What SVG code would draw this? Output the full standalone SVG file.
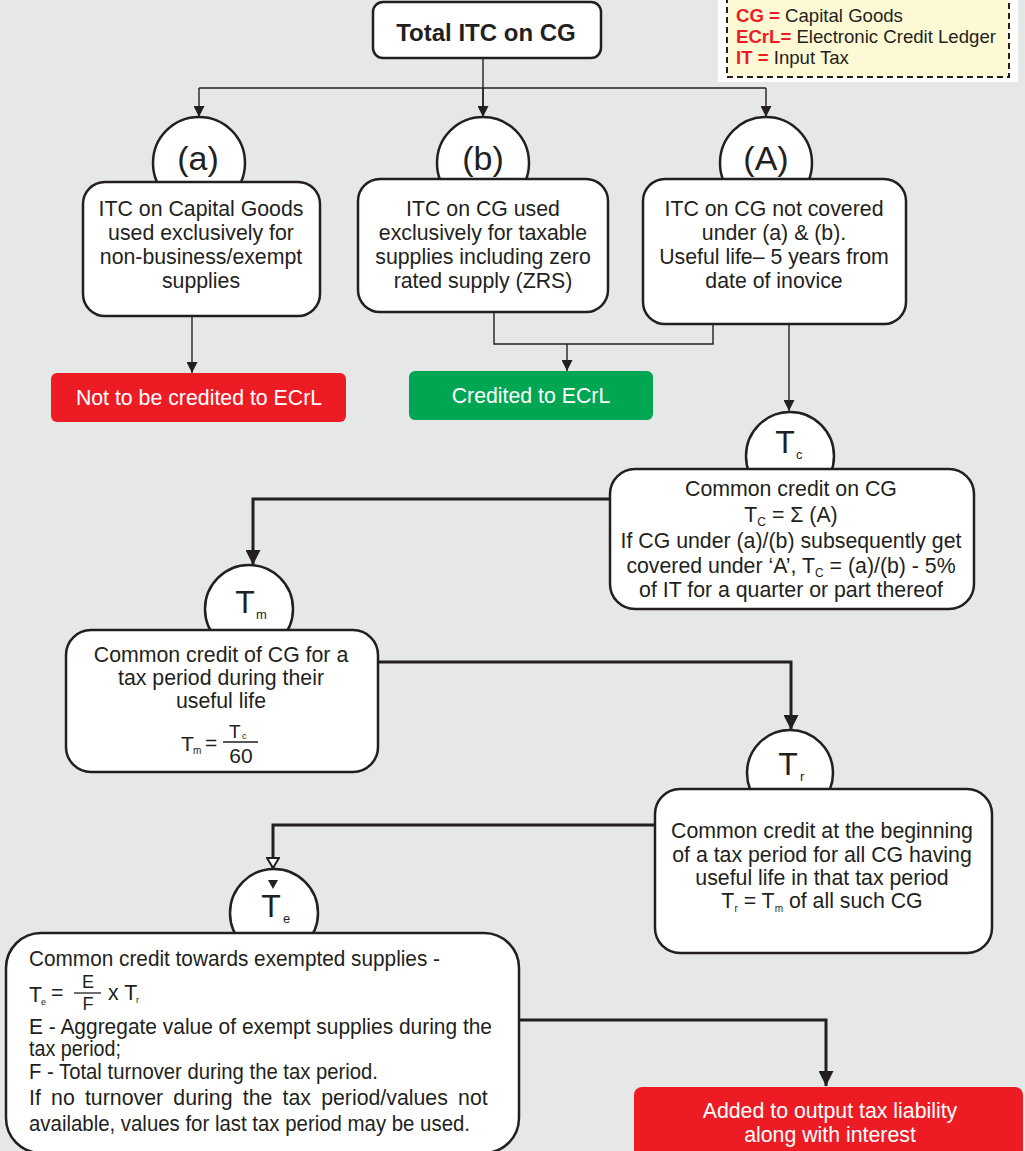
<svg xmlns="http://www.w3.org/2000/svg" width="1025" height="1151" viewBox="0 0 1025 1151">
  <defs>
    <style>
      .box { fill: #ffffff; stroke: #231f20; stroke-width: 2.5; }
      .circ { fill: #ffffff; stroke: #231f20; stroke-width: 2.5; }
      .t { font-family: "Liberation Sans", Arial, sans-serif; font-size: 21.3px; fill: #231f20; }
      .c { text-anchor: middle; }
      .big { font-family: "Liberation Sans", Arial, sans-serif; font-size: 34px; fill: #231f20; text-anchor: middle; }
      .bt { font-family: "Liberation Sans", Arial, sans-serif; font-size: 32px; fill: #231f20; text-anchor: middle; }
      .sub { font-family: "Liberation Sans", Arial, sans-serif; font-size: 13px; fill: #231f20; }
      .w { font-family: "Liberation Sans", Arial, sans-serif; font-size: 21.3px; fill: #ffffff; text-anchor: middle; }
      .thin { fill: none; stroke: #231f20; stroke-width: 1.4; }
      .thick { fill: none; stroke: #231f20; stroke-width: 3; }
      .leg { font-family: "Liberation Sans", Arial, sans-serif; font-size: 18.6px; fill: #231f20; }
      .red { fill: #ed1c24; font-weight: bold; }
    </style>
    <marker id="arr" viewBox="0 0 10 10" refX="10" refY="5" markerWidth="11" markerHeight="11" markerUnits="userSpaceOnUse" orient="auto">
      <path d="M0,0 L10,5 L0,10 z" fill="#231f20"/>
    </marker>
    <marker id="arrB" viewBox="0 0 10 10" refX="10" refY="5" markerWidth="5" markerHeight="5" orient="auto">
      <path d="M0,0 L10,5 L0,10 z" fill="#231f20"/>
    </marker>
    <marker id="arrO" viewBox="0 0 12 14" refX="11" refY="7" markerWidth="12" markerHeight="14" markerUnits="userSpaceOnUse" orient="auto">
      <path d="M1,1 L11,7 L1,13 z" fill="#ffffff" stroke="#231f20" stroke-width="2"/>
    </marker>
  </defs>

  <rect width="1025" height="1151" fill="#e6e8e7"/>

  <!-- abbreviations legend -->
  <g id="legend">
    <rect x="718" y="-5" width="300" height="87" fill="#ffffff"/>
    <rect x="727" y="-5" width="282" height="82" fill="#fdf9d5" stroke="#231f20" stroke-width="2" stroke-dasharray="6,4"/>
    <text class="leg" x="736" y="22"><tspan class="red">CG =</tspan> Capital Goods</text>
    <text class="leg" x="736" y="43"><tspan class="red">ECrL=</tspan> Electronic Credit Ledger</text>
    <text class="leg" x="736" y="64"><tspan class="red">IT =</tspan> Input Tax</text>
  </g>

  <!-- connectors -->
  <g id="connectors">
    <path class="thin" d="M483,58 V117"/>
    <path class="thin" d="M199,88 H766"/>
    <path class="thin" d="M199,88 V117" marker-end="url(#arr)"/>
    <path class="thin" d="M483,88 V117" marker-end="url(#arr)"/>
    <path class="thin" d="M766,88 V117" marker-end="url(#arr)"/>
    <path class="thin" d="M192,316 V373" marker-end="url(#arr)"/>
    <path class="thin" d="M494,312 V344 H713 V324"/>
    <path class="thin" d="M567,344 V371" marker-end="url(#arr)"/>
    <path class="thin" d="M789,324 V411" marker-end="url(#arr)"/>
    <path class="thick" d="M609,499 H253 V565" marker-end="url(#arrB)"/>
    <path class="thick" d="M378,662 H791 V730" marker-end="url(#arrB)"/>
    <path class="thick" d="M655,825 H273 V868" marker-end="url(#arrO)"/>
    <path class="thick" d="M519,1020 H826 V1086" marker-end="url(#arrB)"/>
  </g>

  <g id="total">
    <rect class="box" x="373" y="2" width="228" height="56" rx="10"/>
    <text class="t c" x="486" y="41" style="font-weight:bold;font-size:24px">Total ITC on CG</text>
  </g>

  <g id="node-a">
    <circle class="circ" cx="199" cy="163" r="46"/>
    <rect class="box" x="83" y="182" width="237" height="134" rx="22"/>
    <text class="big" x="198" y="170">(a)</text>
    <text class="t c" x="201" y="216">ITC on Capital Goods</text>
    <text class="t c" x="201" y="240">used exclusively for</text>
    <text class="t c" x="201" y="264">non-business/exempt</text>
    <text class="t c" x="201" y="288">supplies</text>
  </g>

  <g id="node-b">
    <circle class="circ" cx="483" cy="163" r="46"/>
    <rect class="box" x="358" y="179" width="250" height="133" rx="22"/>
    <text class="big" x="483" y="170">(b)</text>
    <text class="t c" x="483" y="216">ITC on CG used</text>
    <text class="t c" x="483" y="240">exclusively for taxable</text>
    <text class="t c" x="483" y="264">supplies including zero</text>
    <text class="t c" x="483" y="288">rated supply (ZRS)</text>
  </g>

  <g id="node-A">
    <circle class="circ" cx="766" cy="163" r="46"/>
    <rect class="box" x="643" y="179" width="263" height="145" rx="22"/>
    <text class="big" x="766" y="170">(A)</text>
    <text class="t c" x="774" y="216">ITC on CG not covered</text>
    <text class="t c" x="774" y="240">under (a) &amp; (b).</text>
    <text class="t c" x="774" y="264">Useful life– 5 years from</text>
    <text class="t c" x="774" y="288">date of inovice</text>
  </g>

  <g id="not-credited">
    <rect x="51" y="373" width="295" height="49" rx="6" fill="#ed1c24"/>
    <text class="w" x="199" y="405">Not to be credited to ECrL</text>
  </g>

  <g id="credited">
    <rect x="409" y="371" width="244" height="49" rx="6" fill="#00a651"/>
    <text class="w" x="531" y="403">Credited to ECrL</text>
  </g>

  <g id="node-Tc">
    <circle class="circ" cx="790" cy="456" r="44"/>
    <rect class="box" x="610" y="469" width="364" height="140" rx="25"/>
    <text class="bt" x="785" y="453">T</text>
    <text class="sub" x="796" y="459">c</text>
    <text class="t c" x="791" y="496">Common credit on CG</text>
    <text class="t c" x="791" y="522">T<tspan dy="4" style="font-size:12px">C</tspan><tspan dy="-4"> = Σ (A)</tspan></text>
    <text class="t c" x="791" y="548">If CG under (a)/(b) subsequently get</text>
    <text class="t c" x="791" y="573">covered under ‘A’, T<tspan dy="4" style="font-size:12px">C</tspan><tspan dy="-4"> = (a)/(b) - 5%</tspan></text>
    <text class="t c" x="791" y="597">of IT for a quarter or part thereof</text>
  </g>

  <g id="node-Tm">
    <circle class="circ" cx="249" cy="609" r="44"/>
    <rect class="box" x="66" y="630" width="312" height="142" rx="25"/>
    <text class="bt" x="245" y="613">T</text>
    <text class="sub" x="256" y="619">m</text>
    <text class="t c" x="221" y="662">Common credit of CG for a</text>
    <text class="t c" x="221" y="685">tax period during their</text>
    <text class="t c" x="221" y="708">useful life</text>
    <text class="t" x="181" y="751" style="font-size:21px">T</text>
    <text class="t" x="193" y="754" style="font-size:10px">m</text>
    <text class="t" x="205" y="750" style="font-size:21px">=</text>
    <path d="M223,742 H258" stroke="#231f20" stroke-width="1.3"/>
    <text class="t" x="229" y="738" style="font-size:19px">T</text>
    <text class="t" x="242" y="739" style="font-size:9px">c</text>
    <text class="t c" x="241" y="763" style="font-size:21px">60</text>
  </g>

  <g id="node-Tr">
    <circle class="circ" cx="790" cy="773" r="43"/>
    <rect class="box" x="655" y="789" width="337" height="164" rx="25"/>
    <text class="bt" x="788" y="775">T</text>
    <text class="sub" x="800" y="781">r</text>
    <text class="t c" x="822" y="838">Common credit at the beginning</text>
    <text class="t c" x="822" y="862">of a tax period for all CG having</text>
    <text class="t c" x="822" y="885">useful life in that tax period</text>
    <text class="t c" x="822" y="908">T<tspan dy="4" style="font-size:10px">r</tspan><tspan dy="-4"> = T</tspan><tspan dy="4" style="font-size:10px">m</tspan><tspan dy="-4"> of all such CG</tspan></text>
  </g>

  <g id="node-Te">
    <circle class="circ" cx="274" cy="913" r="44"/>
    <rect class="box" x="6" y="933" width="513" height="220" rx="35"/>
    <path d="M268,880 L278,880 L273,889 z" fill="#231f20"/>
    <text class="bt" x="271" y="917">T</text>
    <text class="sub" x="283" y="923">e</text>
    <text class="t" x="29" y="966" textLength="411" lengthAdjust="spacingAndGlyphs">Common credit towards exempted supplies -</text>
    <text class="t" x="29" y="1002">T</text>
    <text class="t" x="41" y="1005" style="font-size:9px">e</text>
    <text class="t" x="51" y="1000">=</text>
    <path d="M74,993 H101" stroke="#231f20" stroke-width="1.3"/>
    <text class="t c" x="88" y="988" style="font-size:18px">E</text>
    <text class="t c" x="88" y="1010" style="font-size:18px">F</text>
    <text class="t" x="108" y="1000">x T</text>
    <text class="t" x="136" y="1003" style="font-size:9px">r</text>
    <text class="t" x="29" y="1034" textLength="463" lengthAdjust="spacingAndGlyphs">E - Aggregate value of exempt supplies during the</text>
    <text class="t" x="29" y="1056" textLength="92" lengthAdjust="spacingAndGlyphs">tax period;</text>
    <text class="t" x="29" y="1079" textLength="349" lengthAdjust="spacingAndGlyphs">F - Total turnover during the tax period.</text>
    <text class="t" x="29" y="1105" word-spacing="4.3">If no turnover during the tax period/values not</text>
    <text class="t" x="29" y="1131" textLength="441" lengthAdjust="spacingAndGlyphs">available, values for last tax period may be used.</text>
  </g>

  <g id="added">
    <rect x="634" y="1087" width="389" height="80" rx="8" fill="#ed1c24"/>
    <text class="w" x="830" y="1118">Added to output tax liability</text>
    <text class="w" x="830" y="1142">along with interest</text>
  </g>
</svg>
